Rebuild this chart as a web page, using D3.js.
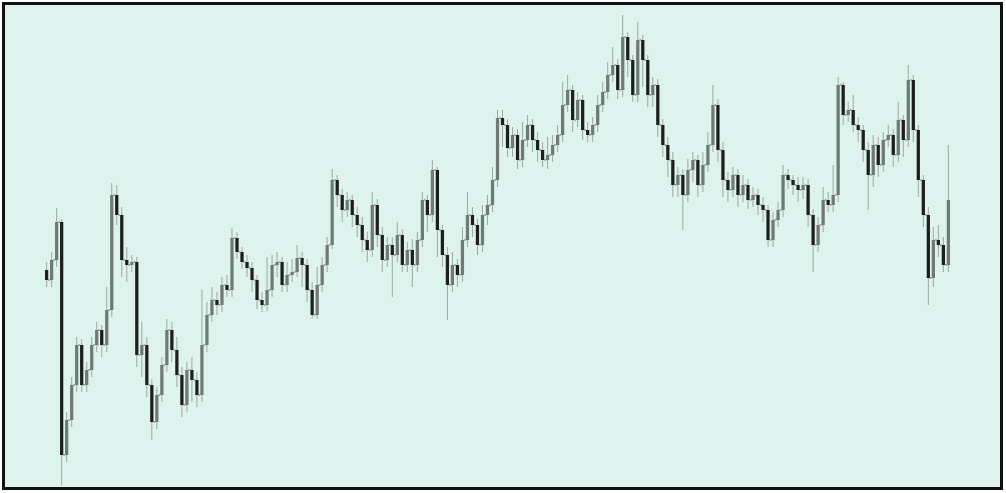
<!DOCTYPE html>
<html>
<head>
<meta charset="utf-8">
<script src="https://cdn.jsdelivr.net/npm/d3@7"></script>
<style>
  html, body { margin: 0; padding: 0; background: #ffffff; }
  svg { display: block; }
</style>
</head>
<body>
<svg id="chart" width="1006" height="493"></svg>
<script>
// Price data (arbitrary units), one candle per period
const firstOpen = 217;
const closes = [207,227,265,32,67,102,142,102,117,142,157,142,177,292,272,227,222,225,132,142,
  102,65,92,122,157,137,112,82,117,107,92,142,172,187,182,202,197,249,235,225,
  219,207,187,182,197,222,225,202,212,215,229,222,197,172,202,222,242,307,292,277,
  287,272,262,247,237,282,252,227,242,232,252,222,237,222,247,287,272,317,257,232,
  202,222,212,247,272,262,242,272,282,307,369,362,339,352,327,347,362,347,337,327,
  332,342,352,382,397,367,387,357,352,362,382,395,412,422,397,450,427,392,447,427,
  392,402,362,342,327,302,312,292,317,327,302,322,342,382,337,307,297,312,292,302,
  287,292,282,277,247,267,277,312,307,302,297,302,272,242,262,287,282,292,402,372,
  377,362,357,337,312,342,322,347,352,332,367,347,407,357,307,272,209,247,242,222,287];
const highs = [225,235,279,268,75,110,150,148,125,150,165,162,200,304,302,280,240,232,230,165,
  150,108,100,130,168,165,150,120,125,130,115,197,185,200,195,210,212,259,255,240,
  232,225,212,195,230,232,235,230,225,228,242,235,228,205,220,230,250,318,312,298,
  295,292,280,270,255,295,288,260,250,250,265,258,245,248,255,295,292,327,320,262,
  240,235,228,260,295,280,268,282,292,320,377,377,368,360,358,365,372,368,355,345,
  350,352,362,405,412,402,395,392,365,370,392,405,425,440,428,472,455,432,465,452,
  432,410,408,368,350,335,320,318,328,335,332,335,355,402,388,345,315,320,318,312,
  308,300,298,290,282,275,285,322,318,312,310,310,308,278,270,300,295,322,410,405,
  385,392,370,362,345,352,350,355,362,358,385,372,422,412,362,312,280,260,262,250,342];
const lows = [200,200,220,2,25,60,95,95,95,110,135,130,135,170,262,210,205,215,120,110,
  90,47,58,85,115,125,100,70,75,85,80,85,135,165,172,175,190,190,228,218,
  210,195,178,175,176,190,210,195,195,205,210,200,185,168,168,195,215,238,280,265,
  270,260,250,235,225,230,240,215,220,190,225,215,215,200,215,240,255,265,230,220,
  167,195,200,205,240,250,232,235,262,275,300,340,330,330,318,320,340,335,325,320,
  318,325,335,345,375,355,360,347,345,345,355,375,388,405,388,390,410,385,385,400,
  380,380,350,330,310,290,290,257,285,305,290,295,315,335,325,290,285,290,280,285,
  278,280,272,265,240,240,260,270,298,292,285,288,260,215,235,255,275,275,285,362,
  365,355,345,325,277,300,310,315,340,320,325,330,340,345,290,260,182,200,230,215,215];

const opens = closes.map((c, i) => i === 0 ? firstOpen : closes[i - 1]);
const candles = closes.map((c, i) => ({ i, open: opens[i], close: c, high: highs[i], low: lows[i] }));

const W = 1006, H = 493;
const svg = d3.select("#chart");

// background + frame
svg.append("rect")
  .attr("x", 3.5).attr("y", 3.5)
  .attr("width", 998).attr("height", 485)
  .attr("fill", "#def3ed")
  .attr("stroke", "#111").attr("stroke-width", 3);

const x = d3.scaleBand()
  .domain(candles.map(d => d.i))
  .range([45, 950])
  .paddingInner(0.35);

const y = d3.scaleLinear().domain([0, 480]).range([487, 7]);

const g = svg.append("g");

// wicks
g.selectAll("line.wick").data(candles).join("line")
  .attr("class", "wick")
  .attr("x1", d => x(d.i) + x.bandwidth() / 2)
  .attr("x2", d => x(d.i) + x.bandwidth() / 2)
  .attr("y1", d => y(d.high))
  .attr("y2", d => y(d.low))
  .attr("stroke", "#9ba8a2")
  .attr("stroke-width", 1);

// bodies
g.selectAll("rect.body").data(candles).join("rect")
  .attr("class", "body")
  .attr("x", d => x(d.i))
  .attr("width", x.bandwidth())
  .attr("y", d => y(Math.max(d.open, d.close)))
  .attr("height", d => Math.max(1.5, Math.abs(y(d.open) - y(d.close))))
  .attr("fill", d => d.close < d.open ? "#1c1f1e" : "#6f7a75");

// connectors between consecutive bodies (step look)
g.selectAll("line.conn").data(candles.slice(1)).join("line")
  .attr("class", "conn")
  .attr("x1", d => x(d.i - 1) + x.bandwidth())
  .attr("x2", d => x(d.i))
  .attr("y1", d => y(d.open))
  .attr("y2", d => y(d.open))
  .attr("stroke", "#5a6460")
  .attr("stroke-width", 1);
</script>
</body>
</html>
